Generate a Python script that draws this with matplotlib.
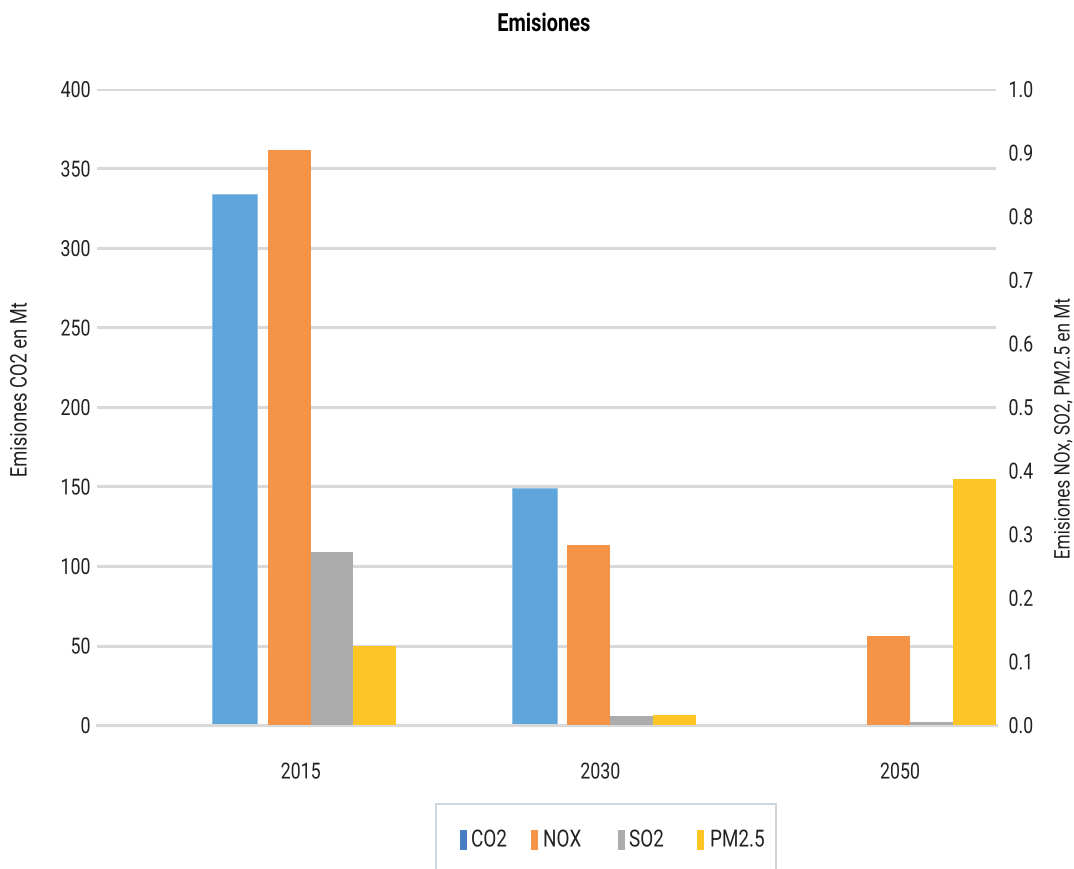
import matplotlib.pyplot as plt
import numpy as np
from matplotlib.patches import Rectangle
from matplotlib.patheffects import AbstractPathEffect
from matplotlib.transforms import Affine2D

plt.rcParams["font.family"] = ["Roboto", "DejaVu Sans"]

# ── Data ──────────────────────────────────────────────
years = ["2015", "2030", "2050"]
co2 = [334, 149, 0]              # Mt, left axis
nox = [0.904, 0.283, 0.140]      # Mt, right axis
so2 = [0.272, 0.014, 0.005]
pm25 = [0.124, 0.016, 0.387]

series_names = ["CO2", "NOX", "SO2", "PM2.5"]
bar_colors = ["#5DA5DA", "#F59347", "#ABACAB", "#FEC526"]
legend_colors = ["#4A7EC4", "#F59347", "#ABACAB", "#FEC526"]

grid_color = "#D9D9D9"
text_color = "#222222"
W, H = 1074, 869


class Narrow(AbstractPathEffect):
    """Squeeze glyphs horizontally to fake a condensed face."""

    def __init__(self, sx=0.8, anchor=0.5):
        super().__init__()
        self.sx = sx
        self.anchor = anchor

    def draw_path(self, renderer, gc, tpath, affine, rgbFace=None):
        v = tpath.vertices
        if len(v):
            x0, x1 = v[:, 0].min(), v[:, 0].max()
            cx = x0 + self.anchor * (x1 - x0)
        else:
            cx = 0
        squeeze = Affine2D().translate(-cx, 0).scale(self.sx, 1).translate(cx, 0)
        renderer.draw_path(gc, tpath, squeeze + affine, rgbFace)


fig = plt.figure(figsize=(W / 100, H / 100), dpi=100)
ax = fig.add_axes([97 / W, 1 - 725 / H, 899 / W, 636 / H])
ax2 = ax.twinx()

x = np.arange(len(years))
w2 = 1 / 7

# primary axis: CO2
ax.bar(x + 0.46, co2, width=0.15, color=bar_colors[0],
       edgecolor="#8EC0E6", linewidth=0.6, zorder=3)

# secondary axis: NOx, SO2, PM2.5 side by side
for k, vals in enumerate([nox, so2, pm25]):
    ax2.bar(x + 0.57 + w2 * (k + 0.5), vals, width=w2, color=bar_colors[k + 1],
            edgecolor="none", zorder=3)

ax.set_xlim(0, 3)
ax.set_ylim(0, 400)
ax2.set_ylim(0, 1.0)
ax.set_yticks(np.arange(0, 401, 50))
ax2.set_yticks(np.arange(0, 1.01, 0.1))
ax2.set_yticklabels([f"{v:.1f}" for v in np.arange(0, 1.01, 0.1)])
ax.set_xticks(x + 0.68)
ax.set_xticklabels(years)

ax.yaxis.grid(True, color=grid_color, linewidth=2.2, zorder=0)
ax.set_axisbelow(True)
for a in (ax, ax2):
    for side in ("top", "left", "right"):
        a.spines[side].set_visible(False)
    a.spines["bottom"].set_color(grid_color)
    a.spines["bottom"].set_linewidth(2.2)
    a.tick_params(length=0, labelsize=16, colors=text_color)
ax.tick_params(axis="y", pad=4.5)
ax2.tick_params(axis="y", pad=9)
ax.tick_params(axis="x", pad=27)

# axis titles
ylab_l = fig.text(20 / W, 1 - 390 / H, "Emisiones CO2 en Mt", rotation=90,
                  ha="center", va="center", fontsize=16.5, color=text_color)
ylab_r = fig.text(1064 / W, 1 - 429 / H, "Emisiones NOx, SO2, PM2.5 en Mt",
                  rotation=90, ha="center", va="center", fontsize=15.5,
                  color=text_color)
title = fig.text(544 / W, 1 - 24 / H, "Emisiones", ha="center", va="center",
                 fontsize=18, fontweight="bold", color="black")

# ── Legend box ──────────────────────────────────────────────
fig.add_artist(Rectangle((436 / W, -0.05), (776 - 436) / W, 0.05 + 1 - 804 / H,
                         transform=fig.transFigure, facecolor="white",
                         edgecolor="#C3CED6", linewidth=1.2))
sw_x = [460, 531, 618, 697]
tx_x = [471, 543, 629, 710]
legend_texts = []
for name, col, sx, tx in zip(series_names, legend_colors, sw_x, tx_x):
    fig.add_artist(Rectangle((sx / W, 1 - 850 / H), 7 / W, 20 / H,
                             transform=fig.transFigure, facecolor=col,
                             edgecolor="none"))
    legend_texts.append(fig.text(tx / W, 1 - 840 / H, name, ha="left",
                                 va="center", fontsize=17, color=text_color))

# condensed look for all labels
fig.canvas.draw()
for t in ax.get_yticklabels():
    t.set_path_effects([Narrow(anchor=1.0)])
for t in ax2.get_yticklabels() + legend_texts:
    t.set_path_effects([Narrow(anchor=0.0)])
for t in ax.get_xticklabels() + [ylab_l, ylab_r, title]:
    t.set_path_effects([Narrow(anchor=0.5)])

fig.savefig("out.png", dpi=100)
